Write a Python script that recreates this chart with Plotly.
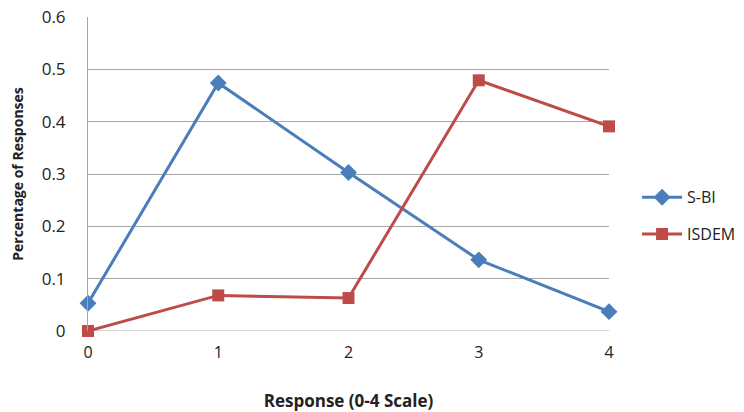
import plotly.graph_objects as go

categories = [0, 1, 2, 3, 4]
sbi = [0.053, 0.474, 0.303, 0.136, 0.037]
isdem = [0.0, 0.068, 0.063, 0.479, 0.391]
y_ticks = [0, 0.1, 0.2, 0.3, 0.4, 0.5, 0.6]
y_tick_labels = ["0", "0.1", "0.2", "0.3", "0.4", "0.5", "0.6"]

FONT = "Open Sans"
fig = go.Figure()
fig.add_trace(go.Scatter(x=categories, y=sbi, name="S-BI", mode="lines+markers",
                         legendgroup="g1",
                         line=dict(color="#4A7EBB", width=3),
                         marker=dict(symbol="diamond", size=13, color="#4A7EBB")))
fig.add_trace(go.Scatter(x=categories, y=isdem, name="ISDEM", mode="lines+markers",
                         legendgroup="g2",
                         line=dict(color="#BE4B48", width=3),
                         marker=dict(symbol="square", size=12, color="#BE4B48")))

# paper spans x 88..744; plot domain covers 88..609
fig.update_layout(
    width=744, height=412,
    margin=dict(l=88, r=0, t=17, b=81),
    paper_bgcolor="white", plot_bgcolor="white",
    font=dict(family=FONT, size=16, color="#222"),
    showlegend=True,
    legend=dict(x=0.837, y=0.48, xanchor="left", yanchor="top",
                font=dict(family=FONT, size=16), tracegroupgap=13,
                itemwidth=40, bgcolor="rgba(0,0,0,0)", borderwidth=0),
    xaxis=dict(range=[0, 4], domain=[0, 521 / 656], tickvals=categories,
               ticktext=[str(c) for c in categories],
               showgrid=False, zeroline=False, showline=False, ticks="",
               ticklabelstandoff=10, automargin=False, tickfont=dict(size=16),
               title=dict(text="<b>Response (0-4 Scale)</b>", font=dict(size=17), standoff=36)),
    yaxis=dict(range=[0, 0.6], tickvals=y_ticks, ticktext=y_tick_labels,
               showgrid=True, gridcolor="#A6A6A6", gridwidth=1, zeroline=False,
               showline=True, linecolor="#A6A6A6", linewidth=1, ticks="",
               ticklabelstandoff=18, automargin=False, tickfont=dict(size=17),
               title=dict(text="<b>Percentage of Responses</b>", font=dict(size=14), standoff=14)),
)
fig.add_shape(type="line", xref="x domain", yref="y", x0=0, x1=1, y0=0, y1=0,
              line=dict(color="#A6A6A6", width=1), layer="below")
fig.update_traces(cliponaxis=False)
fig.write_html("out.html", config={"responsive": False, "displayModeBar": False},
               post_script="document.body.style.margin='0';document.body.style.overflow='hidden';")
